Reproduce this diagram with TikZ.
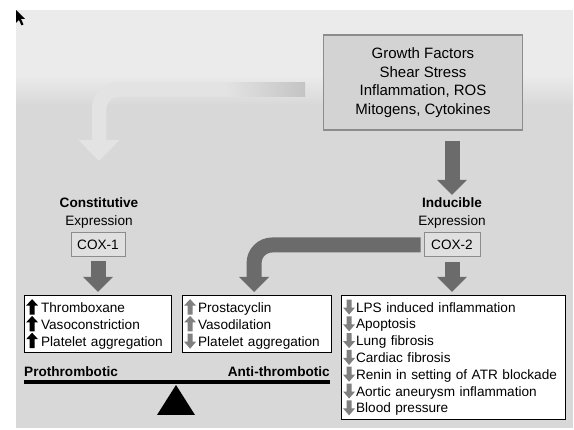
\documentclass[tikz,border=0pt]{standalone}
\usepackage{fontspec}
\setmainfont{Liberation Sans}
\usetikzlibrary{arrows.meta, positioning}
\definecolor{bgtop}{HTML}{EBEBEB}
\definecolor{bgbottom}{HTML}{D8D8D8}
\definecolor{boxgray}{HTML}{D3D3D3}
\definecolor{coxgray}{HTML}{E0E0E0}
\definecolor{linegray}{HTML}{8C8C8C}
\definecolor{arrowgray}{HTML}{6B6B6B}
\definecolor{lightarrow}{HTML}{E3E3E3}
\definecolor{lightend}{HTML}{C4C4C4}
\definecolor{markgray}{HTML}{808080}
\newcommand{\upmark}[1]{\tikz[baseline=0pt]\fill[#1] (3.5pt,-2pt) -- (3.5pt,7pt) -- (0pt,7pt) -- (6pt,13.5pt) -- (12pt,7pt) -- (8.5pt,7pt) -- (8.5pt,-2pt) -- cycle;}
\newcommand{\downmark}[1]{\tikz[baseline=0pt]\fill[#1] (3.5pt,12.5pt) -- (3.5pt,4.5pt) -- (0pt,4.5pt) -- (6pt,-2.5pt) -- (12pt,4.5pt) -- (8.5pt,4.5pt) -- (8.5pt,12.5pt) -- cycle;}
\tikzstyle{basefont} = [font=\fontsize{13.6}{16.8}\selectfont]
\tikzstyle{headtext} = [basefont, inner sep=1pt, anchor=base]
\tikzstyle{coxbox} = [basefont, draw=linegray, fill=coxgray, line width=1pt, minimum height=24pt, inner sep=2pt]
\tikzstyle{listbox} = [basefont, draw=black, fill=white, line width=1.2pt, align=left, inner xsep=1.5pt, inner ysep=0pt, anchor=north west]
\tikzstyle{fatarrow} = [draw=arrowgray, line width=15pt, -{Triangle[width=29pt, length=15pt]}]

\begin{document}
\begin{tikzpicture}[x=1pt, y=-1pt]
	\useasboundingbox (0,0) rectangle (574,430);
	% backdrop
	\fill[bgtop] (16,10) rectangle (573,76);
	\shade[top color=bgtop, bottom color=bgbottom] (16,75) rectangle (573,106);
	\fill[bgbottom] (16,105) rectangle (573,428);
	\fill (16,10) -- (16,23) -- (19,20) -- (21.5,25.5) -- (23.5,24.5) -- (21,19) -- (25,19) -- cycle;

	% stimuli
	\node (Factors) [draw=linegray, fill=boxgray, line width=1.2pt, minimum width=199pt, minimum height=95pt, align=center, font=\fontsize{15}{18.6}\selectfont] at (423,82.5) {Growth Factors\\Shear Stress\\Inflammation, ROS\\Mitogens, Cytokines};

	% constitutive side
	\node (Constitutive) [headtext] at (99,208) {\textbf{Constitutive}};
	\node (ExprOne) [headtext] at (99,226) {Expression};
	\node (COX1) [coxbox, minimum width=54pt] at (98,245) {COX-1};

	% inducible side
	\node (Inducible) [headtext] at (452,208) {\textbf{Inducible}};
	\node (ExprTwo) [headtext] at (452,226) {Expression};
	\node (COX2) [coxbox, minimum width=56pt] at (452,245) {COX-2};

	% effects
	\node (LeftBox) [listbox, minimum width=147pt, minimum height=57pt, text width=144pt] at (24,295)
		{\upmark{black}\hspace{3pt}Thromboxane\\\upmark{black}\hspace{3pt}Vasoconstriction\\\upmark{black}\hspace{3pt}Platelet aggregation};
	\node (MidBox) [listbox, minimum width=149pt, minimum height=57pt, text width=146pt] at (182,295)
		{\upmark{markgray}\hspace{2pt}Prostacyclin\\\upmark{markgray}\hspace{2pt}Vasodilation\\\downmark{markgray}\hspace{2pt}Platelet aggregation};
	\node (RightBox) [listbox, minimum width=224pt, minimum height=124pt, text width=221pt] at (341,295)
		{\downmark{markgray}\hspace{1pt}LPS induced inflammation\\\downmark{markgray}\hspace{1pt}Apoptosis\\\downmark{markgray}\hspace{1pt}Lung fibrosis\\\downmark{markgray}\hspace{1pt}Cardiac fibrosis\\\downmark{markgray}\hspace{1pt}Renin in setting of ATR blockade\\\downmark{markgray}\hspace{1pt}Aortic aneurysm inflammation\\\downmark{markgray}\hspace{1pt}Blood pressure};

	% faded arrow to the constitutive side
	\coordinate (LightIn) at (305,89.5);
	\coordinate (LightTip) at (99,161);
	\draw[draw=lightarrow, line width=14.5pt, rounded corners=20pt, -{Triangle[width=40pt, length=21pt]}] (LightIn) -| (LightTip);
	\shade[left color=lightarrow, right color=lightend] (225,82.25) rectangle (305,96.75);

	% dark arrows
	\draw[fatarrow, shorten <=10pt, shorten >=2pt] (Inducible.north |- Factors.south) -- (Inducible.north);
	\draw[fatarrow, shorten <=4pt, shorten >=3pt] (COX1.south) -- (COX1.south |- LeftBox.north);
	\draw[fatarrow, shorten <=5pt, shorten >=3pt] (COX2.south) -- (COX2.south |- RightBox.north);
	\draw[fatarrow, rounded corners=18pt, shorten <=3pt, shorten >=3pt] (COX2.west) -| ([xshift=-3pt]MidBox.north);

	% balance
	\node (Pro) [basefont, inner sep=0pt, anchor=base west] at (24,377) {\textbf{Prothrombotic}};
	\node (Anti) [basefont, inner sep=0pt, anchor=base east] at (330,377) {\textbf{Anti-thrombotic}};
	\fill (24,380) rectangle (330,384.5);
	\fill (176,385) -- (195,415) -- (157,415) -- cycle;
\end{tikzpicture}
\end{document}
